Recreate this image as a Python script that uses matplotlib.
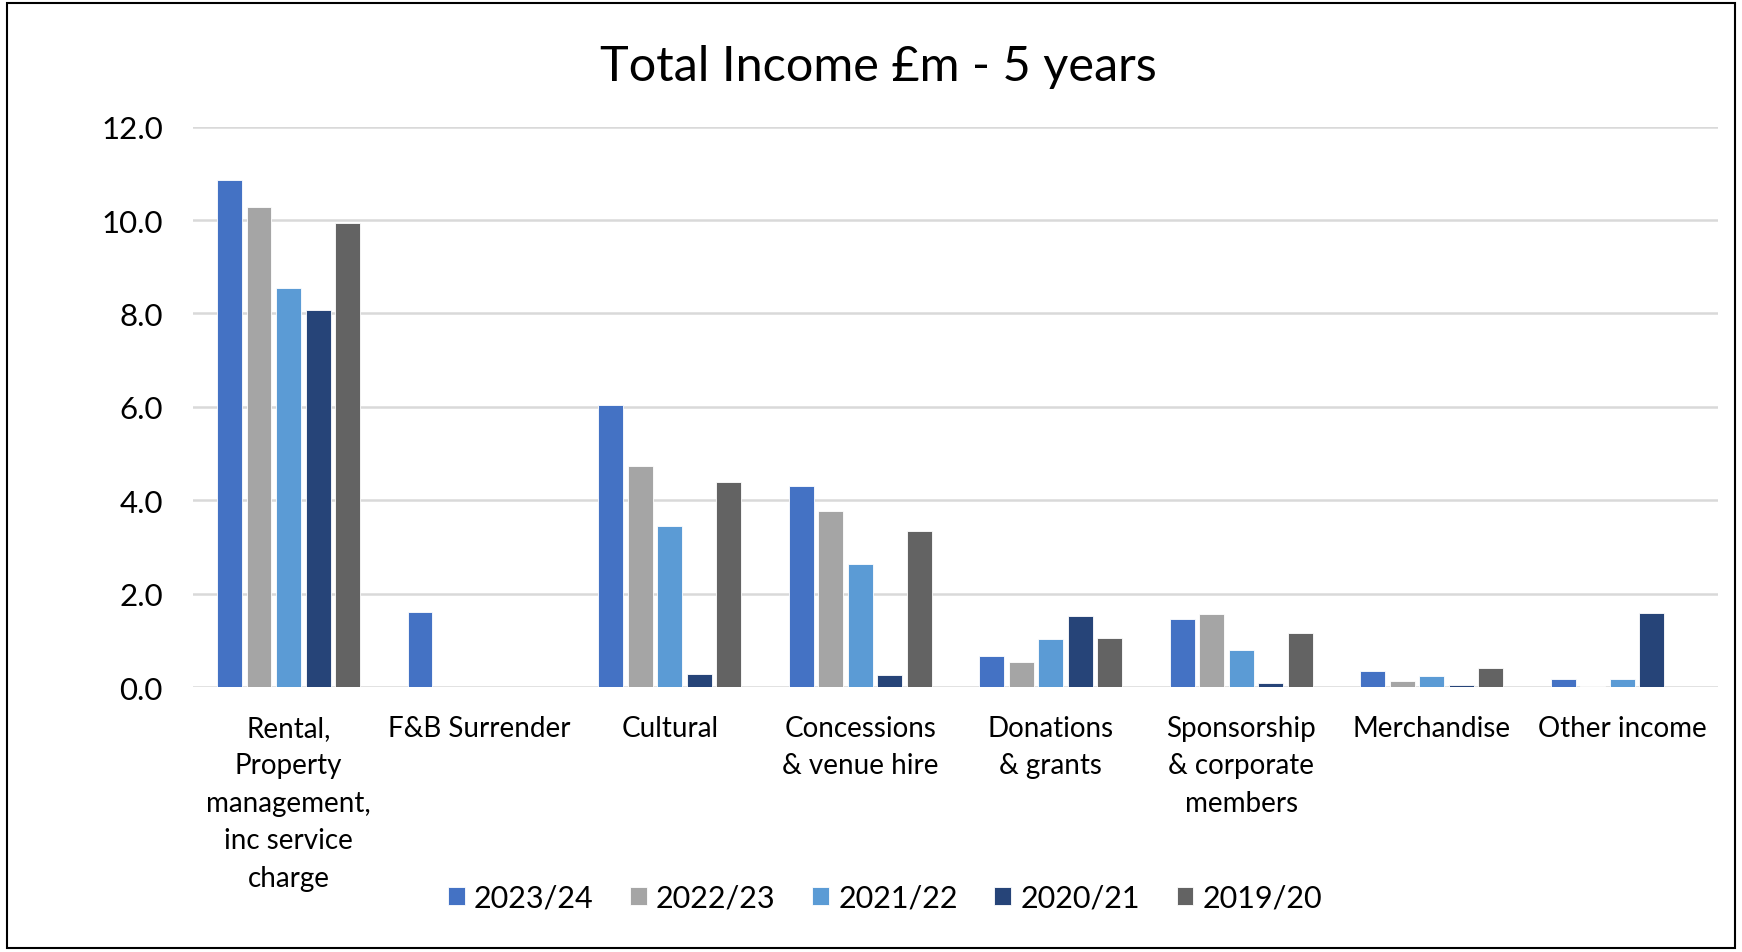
import matplotlib.pyplot as plt
import numpy as np
from matplotlib.patches import Rectangle

plt.rcParams['font.family'] = ['Lato', 'DejaVu Sans']

categories = ["Rental,\nProperty\nmanagement,\ninc service\ncharge", "F&B Surrender",
              "Cultural", "Concessions\n& venue hire", "Donations\n& grants",
              "Sponsorship\n& corporate\nmembers", "Merchandise", "Other income"]
years = ["2023/24", "2022/23", "2021/22", "2020/21", "2019/20"]

y2023 = [10.86, 1.60, 6.04, 4.30, 0.67, 1.45, 0.34, 0.17]
y2022 = [10.28, 0.00, 4.73, 3.78, 0.53, 1.56, 0.14, 0.03]
y2021 = [8.54, 0.00, 3.44, 2.64, 1.03, 0.79, 0.23, 0.17]
y2020 = [8.08, 0.00, 0.28, 0.25, 1.52, 0.08, 0.04, 1.59]
y2019 = [9.94, 0.00, 4.39, 3.35, 1.05, 1.15, 0.41, 0.00]

colors = ['#4472C4', '#A5A5A5', '#5B9BD5', '#264478', '#636363']

fig = plt.figure(figsize=(17.42, 9.53), dpi=100)
ax = fig.add_axes([0.111, 0.278, 0.875, 0.588])

x = np.arange(len(categories))
step = 0.155
width = 0.13
for i, (vals, lab) in enumerate(zip([y2023, y2022, y2021, y2020, y2019], years)):
    ax.bar(x + (i - 2) * step, vals, width, color=colors[i], label=lab,
           edgecolor='white', linewidth=0.6, zorder=3)

ax.set_xlim(-0.5, len(categories) - 0.5)
ax.set_ylim(0, 12)
ax.set_yticks(np.arange(0, 12.1, 2))
ax.set_yticklabels([f"{v:.1f}" for v in np.arange(0, 12.1, 2)], fontsize=22.5)
ax.set_xticks(x)
ax.set_xticklabels(categories, fontsize=20, linespacing=1.55, va='top')
ax.tick_params(axis='both', length=0)
ax.tick_params(axis='y', pad=22)
ax.tick_params(axis='x', pad=20)
ax.yaxis.grid(True, color='#D9D9D9', linewidth=1.8, zorder=0)
for s in ax.spines.values():
    s.set_visible(False)

fig.text(0.504, 0.93, "Total Income £m - 5 years", fontsize=35, ha='center', va='center')

ax.legend(loc='center', bbox_to_anchor=(0.508, 0.057), bbox_transform=fig.transFigure,
          ncol=5, frameon=False, fontsize=22, handlelength=0.55, handleheight=0.55,
          handletextpad=0.3, columnspacing=1.2)

fig.patches.append(Rectangle((0.004, 0.004), 0.992, 0.992, transform=fig.transFigure,
                             fill=False, edgecolor='black', linewidth=1.5))

fig.savefig("out.png", dpi=100)
